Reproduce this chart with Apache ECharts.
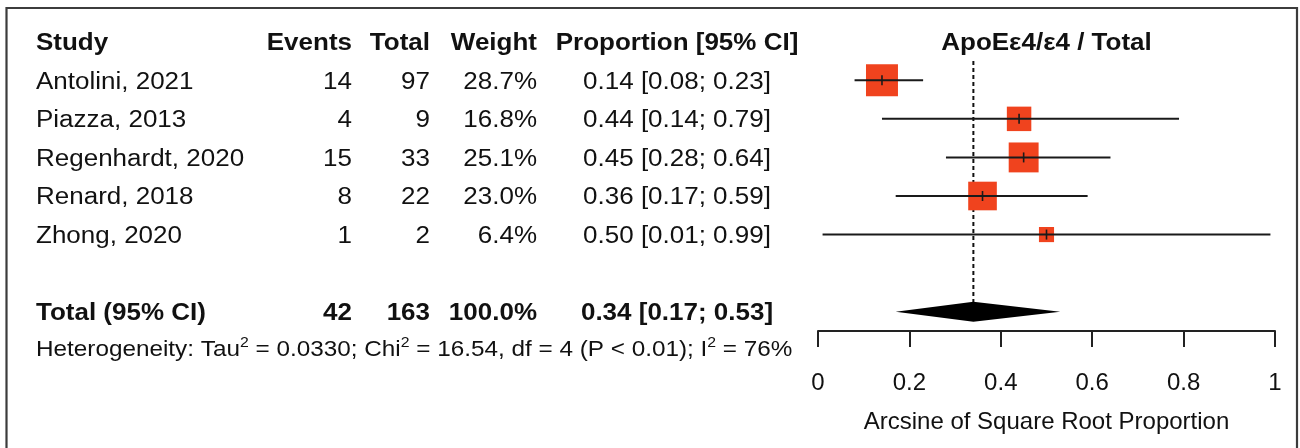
<!DOCTYPE html>
<html><head><meta charset="utf-8">
<script src="https://cdn.jsdelivr.net/npm/echarts@6/dist/echarts.min.js"></script>
<style>html,body{margin:0;padding:0;background:#fff}#c{width:1300px;height:448px}</style>
</head><body><div id="c"></div>
<script>
// ---------------- data ----------------
const studies = ['Antolini, 2021', 'Piazza, 2013', 'Regenhardt, 2020', 'Renard, 2018', 'Zhong, 2020'];
const events = [14, 4, 15, 8, 1];
const totals = [97, 9, 33, 22, 2];
const weights = [28.7, 16.8, 25.1, 23.0, 6.4];
const proportions = [0.14, 0.44, 0.45, 0.36, 0.50];
const ciLower = [0.08, 0.14, 0.28, 0.17, 0.01];
const ciUpper = [0.23, 0.79, 0.64, 0.59, 0.99];
const columnHeaders = ['Study', 'Events', 'Total', 'Weight', 'Proportion [95% CI]'];
const pooledLabel = 'Total (95% CI)';
const pooledEvents = 42;
const pooledTotal = 163;
const pooledWeight = 100.0;
const pooledEstimate = 0.34;
const pooledLower = 0.17;
const pooledUpper = 0.53;
const plotTitle = 'ApoEε4/ε4 / Total';
const axisTitle = 'Arcsine of Square Root Proportion';
const xTicks = [0, 0.2, 0.4, 0.6, 0.8, 1];
const tau2 = '0.0330', chi2 = '16.54', hetDf = 4, hetP = 'P < 0.01', i2 = '76%';

// ---------------- layout / style ----------------
const FONT = '"Liberation Sans", Arial, Helvetica, sans-serif';
const SX = 1.13;            // horizontal stretch of the reference text
const FS = 23;              // main font size
const TEXT_DY = 2;          // nudge text so cap centres sit on row centres
const COL = { study: 36, events: 352, total: 430, weight: 537, prop: 677 };
const ROW_HEADER = 0, ROW_TOTAL = 7, ROW_HET = 7.94;
const SQUARE_K = 5.97;      // square side = K * sqrt(weight)
const SQUARE_COLOR = '#f0431e';
const INK = '#111';

const fmt2 = v => v.toFixed(2);
const propText = (p, lo, hi) => `${fmt2(p)} [${fmt2(lo)}; ${fmt2(hi)}]`;

// table cells
const cells = [];
const hdrAlign = ['left', 'right', 'right', 'right', 'center'];
const colX = [COL.study, COL.events, COL.total, COL.weight, COL.prop];
columnHeaders.forEach((h, j) => cells.push({ x: colX[j], row: ROW_HEADER, text: h, align: hdrAlign[j], bold: true, size: FS }));
studies.forEach((s, i) => {
  const r = i + 1;
  cells.push({ x: COL.study, row: r, text: s, align: 'left', size: FS });
  cells.push({ x: COL.events, row: r, text: String(events[i]), align: 'right', size: FS });
  cells.push({ x: COL.total, row: r, text: String(totals[i]), align: 'right', size: FS });
  cells.push({ x: COL.weight, row: r, text: weights[i].toFixed(1) + '%', align: 'right', size: FS });
  cells.push({ x: COL.prop, row: r, text: propText(proportions[i], ciLower[i], ciUpper[i]), align: 'center', size: FS });
});
cells.push({ x: COL.study, row: ROW_TOTAL, text: pooledLabel, align: 'left', bold: true, size: FS });
cells.push({ x: COL.events, row: ROW_TOTAL, text: String(pooledEvents), align: 'right', bold: true, size: FS });
cells.push({ x: COL.total, row: ROW_TOTAL, text: String(pooledTotal), align: 'right', bold: true, size: FS });
cells.push({ x: COL.weight, row: ROW_TOTAL, text: pooledWeight.toFixed(1) + '%', align: 'right', bold: true, size: FS });
cells.push({ x: COL.prop, row: ROW_TOTAL, text: propText(pooledEstimate, pooledLower, pooledUpper), align: 'center', bold: true, size: FS });
cells.push({
  x: COL.study, row: ROW_HET, align: 'left', size: 21.5, lineHeight: 27,
  text: `Heterogeneity: Tau{s|2} = ${tau2}; Chi{s|2} = ${chi2}, df = ${hetDf} (${hetP}); I{s|2} = ${i2}`,
  rich: { s: { fontSize: 14, lineHeight: 14, fontFamily: FONT, fill: INK, verticalAlign: 'top' } }
});

function textEl(c, p) {
  const style = {
    x: 0, y: 0, text: c.text, rich: c.rich,
    align: c.align, verticalAlign: 'middle',
    fontSize: c.size, fontWeight: c.bold ? 'bold' : 'normal',
    fontFamily: FONT, fill: INK
  };
  if (c.lineHeight) style.lineHeight = c.lineHeight;
  return { type: 'text', x: p[0], y: p[1] + TEXT_DY, scaleX: SX, style };
}

const chart = echarts.init(document.getElementById('c'), null, { renderer: 'canvas' });
const GRID_TOP = 61, GRID_BOTTOM = 117;

const option = {
  animation: false,
  backgroundColor: '#fff',
  graphic: [{
    type: 'rect', silent: true, z: 100,
    shape: { x: 6.5, y: 8, width: 1290.5, height: 480 },
    style: { fill: 'none', stroke: '#3c3c3c', lineWidth: 2.2 }
  }],
  grid: [
    { left: 818, right: 25, top: GRID_TOP, bottom: GRID_BOTTOM, outerBoundsMode: 'none', containLabel: false },
    { left: 0, width: 800, top: GRID_TOP, bottom: GRID_BOTTOM, outerBoundsMode: 'none', containLabel: false }
  ],
  xAxis: [
    {
      gridIndex: 0, type: 'value', min: xTicks[0], max: xTicks[xTicks.length - 1], interval: 0.2,
      axisLine: { show: true, onZero: false, lineStyle: { color: '#222', width: 2 } },
      axisTick: { show: true, length: 16, inside: false, lineStyle: { color: '#222', width: 2 } },
      splitLine: { show: false },
      axisLabel: { show: true, margin: 40, fontSize: 24, fontFamily: FONT, color: INK, formatter: v => String(+v.toFixed(1)) },
      name: axisTitle, nameLocation: 'middle', nameGap: 79,
      nameTextStyle: { fontSize: 24, fontFamily: FONT, color: INK }
    },
    { gridIndex: 1, type: 'value', min: 0, max: 800, show: false }
  ],
  yAxis: [
    { gridIndex: 0, type: 'value', min: 0.5, max: 7.5, inverse: true, show: false },
    { gridIndex: 1, type: 'value', min: 0.5, max: 7.5, inverse: true, show: false }
  ],
  series: [
    // table text
    {
      type: 'custom', xAxisIndex: 1, yAxisIndex: 1, clip: false, silent: true,
      data: cells.map(c => [c.x, c.row]),
      renderItem: (params, api) => {
        const c = cells[params.dataIndex];
        return textEl(c, api.coord([api.value(0), api.value(1)]));
      }
    },
    // plot title
    {
      type: 'custom', xAxisIndex: 0, yAxisIndex: 0, clip: false, silent: true,
      data: [[(xTicks[0] + xTicks[xTicks.length - 1]) / 2, ROW_HEADER]],
      renderItem: (params, api) => textEl({ text: plotTitle, align: 'center', bold: true, size: FS }, api.coord([api.value(0), api.value(1)]))
    },
    // reference (dotted) line at pooled estimate
    {
      type: 'custom', xAxisIndex: 0, yAxisIndex: 0, clip: false, silent: true, z: 1,
      data: [[pooledEstimate, 0.5, ROW_TOTAL]],
      renderItem: (params, api) => {
        const a = api.coord([api.value(0), api.value(1)]);
        const b = api.coord([api.value(0), api.value(2)]);
        return { type: 'line', shape: { x1: a[0], y1: a[1], x2: b[0], y2: b[1] },
          style: { stroke: INK, lineWidth: 2, lineDash: [4, 3] } };
      }
    },
    // studies: squares + CI lines
    {
      type: 'custom', xAxisIndex: 0, yAxisIndex: 0, clip: false, silent: true, z: 3,
      data: studies.map((s, i) => [proportions[i], i + 1, ciLower[i], ciUpper[i], weights[i]]),
      renderItem: (params, api) => {
        const c = api.coord([api.value(0), api.value(1)]);
        const lo = api.coord([api.value(2), api.value(1)]);
        const hi = api.coord([api.value(3), api.value(1)]);
        const s = SQUARE_K * Math.sqrt(api.value(4));
        return {
          type: 'group', children: [
            { type: 'rect', shape: { x: c[0] - s / 2, y: c[1] - s / 2, width: s, height: s }, style: { fill: SQUARE_COLOR } },
            { type: 'line', shape: { x1: lo[0], y1: lo[1], x2: hi[0], y2: hi[1] }, style: { stroke: '#1a1a1a', lineWidth: 2 } },
            { type: 'line', shape: { x1: c[0], y1: c[1] - 5, x2: c[0], y2: c[1] + 5 }, style: { stroke: '#1a1a1a', lineWidth: 1.6 } }
          ]
        };
      }
    },
    // pooled diamond
    {
      type: 'custom', xAxisIndex: 0, yAxisIndex: 0, clip: false, silent: true, z: 4,
      data: [[pooledEstimate, ROW_TOTAL, pooledLower, pooledUpper]],
      renderItem: (params, api) => {
        const c = api.coord([api.value(0), api.value(1)]);
        const lo = api.coord([api.value(2), api.value(1)]);
        const hi = api.coord([api.value(3), api.value(1)]);
        const h = 10;
        return { type: 'polygon', shape: { points: [[lo[0], c[1]], [c[0], c[1] - h], [hi[0], c[1]], [c[0], c[1] + h]] },
          style: { fill: '#000' } };
      }
    }
  ]
};
chart.setOption(option);
</script>
</body></html>
